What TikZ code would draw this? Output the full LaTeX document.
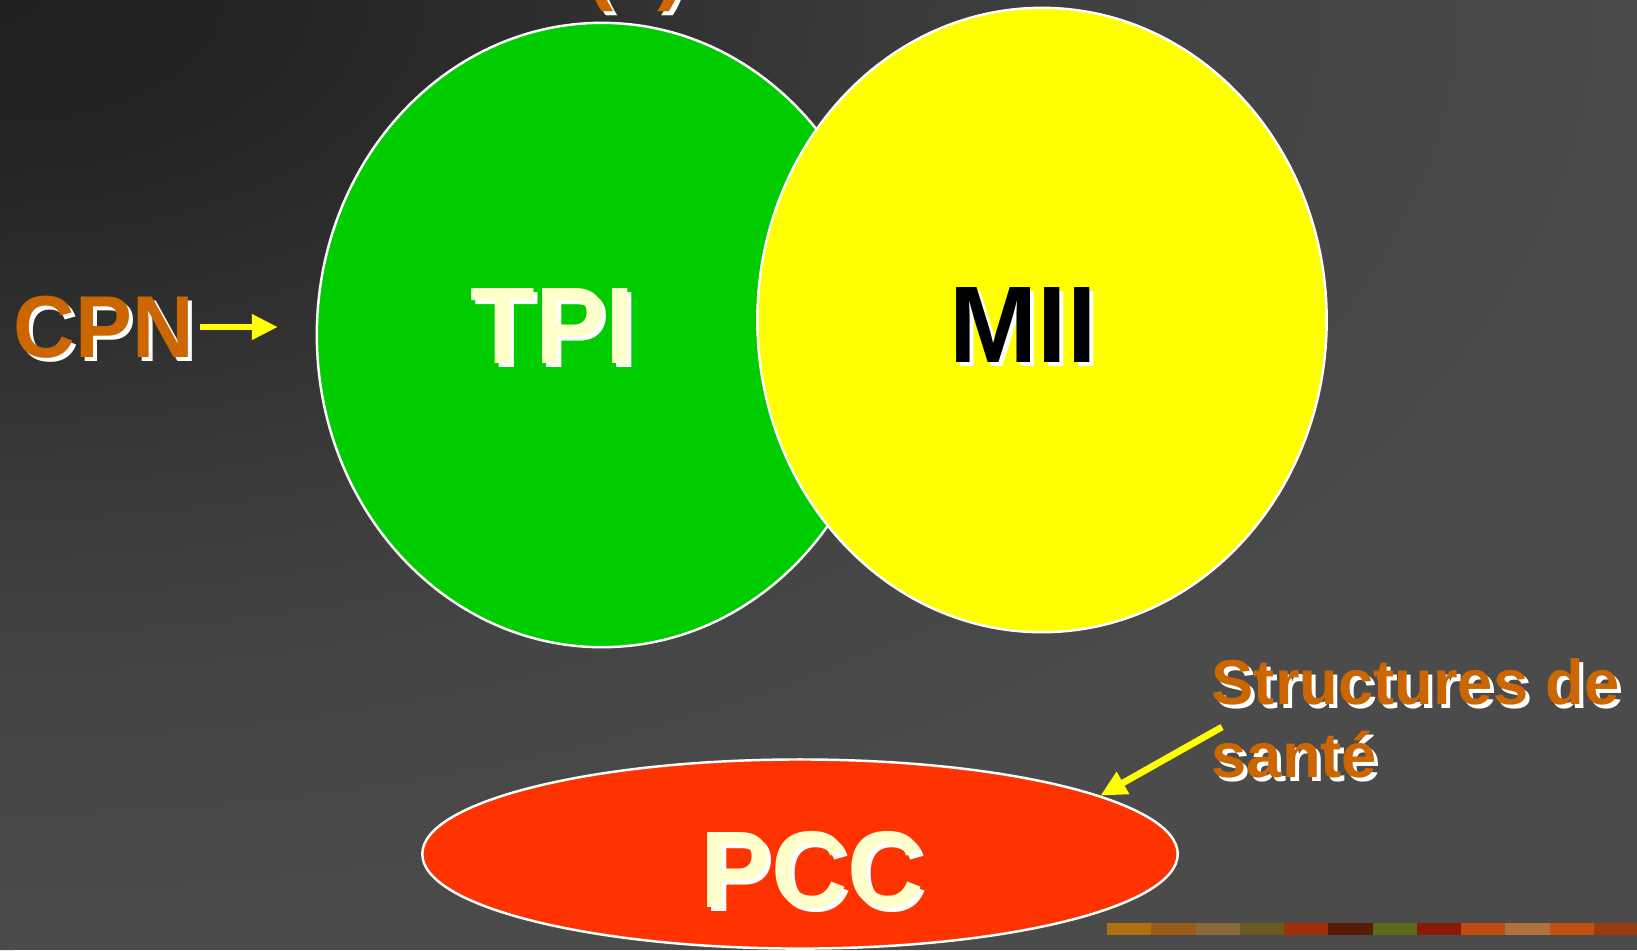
\documentclass[tikz,border=0pt]{standalone}
\usepackage{fontspec}
\setmainfont{Liberation Sans}
\usepackage{graphicx}
\usetikzlibrary{arrows.meta}
\usetikzlibrary{shapes.geometric}

\definecolor{tpigreen}{HTML}{00CC00}
\definecolor{miiyellow}{HTML}{FFFF00}
\definecolor{pccred}{HTML}{FF3300}
\definecolor{labelorange}{HTML}{CC6600}
\definecolor{cream}{HTML}{FFFFCC}
\definecolor{bggray}{HTML}{4B4B4B}
\definecolor{bg0}{HTML}{212121}
\definecolor{bg1}{HTML}{242424}
\definecolor{bg2}{HTML}{303030}
\definecolor{bg3}{HTML}{3A3A3A}
\definecolor{bg4}{HTML}{444444}
\definecolor{s1}{HTML}{B07010}
\definecolor{s2}{HTML}{9A5A18}
\definecolor{s3}{HTML}{8A6A3A}
\definecolor{s4}{HTML}{6B5A20}
\definecolor{s5}{HTML}{A0300A}
\definecolor{s6}{HTML}{5A1A08}
\definecolor{s7}{HTML}{5A6A1A}
\definecolor{s8}{HTML}{8A1A08}
\definecolor{s9}{HTML}{C04A10}
\definecolor{s10}{HTML}{B07040}
\definecolor{s11}{HTML}{C05010}
\definecolor{s12}{HTML}{9A3A10}

\pgfdeclareradialshading{slidebg}{\pgfpoint{0bp}{0bp}}{color(0bp)=(bg0); color(4bp)=(bg1); color(9bp)=(bg2); color(13bp)=(bg3); color(18bp)=(bg4); color(25bp)=(bggray); color(50bp)=(bggray)}

% text with a white drop shadow
\newcommand\shtext[3][0.97]{\scalebox{#1}[1]{\makebox[0pt][l]{\kern0.04cm\raisebox{-0.04cm}{\textcolor{white}{#3}}}\textcolor{#2}{#3}}}

\begin{document}
\begin{tikzpicture}[x=0.01cm, y=-0.01cm,
	ring/.style={ellipse, draw=white, line width=0.7pt, inner sep=0pt},
	bigword/.style={anchor=base west, inner sep=0pt, font=\bfseries\fontsize{31}{36}\selectfont},
	sideword/.style={anchor=base west, inner sep=0pt, font=\bfseries\fontsize{25}{30}\selectfont},
	smallword/.style={anchor=base west, inner sep=0pt, font=\bfseries\fontsize{18}{21}\selectfont},
	pointer/.style={draw=miiyellow, line width=1.9pt, -{Triangle[length=0.26cm,width=0.24cm]}}]
	\useasboundingbox (0,0) rectangle (1637,950);
	\clip (0,0) rectangle (1637,950);
	\fill[bggray] (0,0) rectangle (1637,950);
	\shade[shading=slidebg] (0,0) ellipse [x radius=1700, y radius=950];
	\foreach \c [count=\i from 0] in {s1,s2,s3,s4,s5,s6,s7,s8,s9,s10,s11,s12}
		\fill[\c] (1107+\i*44.25,923) rectangle ++(44.5,12);

	\node[sideword] (topparens) at (585,-7) {\shtext{labelorange}{(\hspace{0.45cm})}};

	\node[ring, fill=tpigreen, minimum width=5.70cm, minimum height=6.24cm] (tpiring) at (602,335) {};
	\node[ring, fill=miiyellow, minimum width=5.69cm, minimum height=6.24cm] (miiring) at (1042,320) {};
	\node[ring, fill=pccred, minimum width=7.55cm, minimum height=1.89cm] (pccring) at (800,854) {};

	\node[bigword] (tpi) at (470,363) {\shtext{cream}{TPI}};
	\node[bigword] (mii) at (949,362) {\shtext{black}{MII}};
	\node[bigword] (pcc) at (700,907) {\shtext{cream}{PCC}};
	\node[sideword] (cpn) at (13,357) {\shtext{labelorange}{CPN}};
	\node[smallword] (sds) at (1211,704) {\shtext[1]{labelorange}{Structures de}};
	\node[smallword] (sante) at (1211,777) {\shtext[1]{labelorange}{santé}};

	\coordinate (cpntip) at (278,327);
	\coordinate (sdstail) at (1222,727);
	\draw[pointer, shorten <=0.06cm] (cpn.east |- cpntip) -- (cpntip);
	\draw[pointer] (sdstail) -- (pccring.11);
\end{tikzpicture}
\end{document}
